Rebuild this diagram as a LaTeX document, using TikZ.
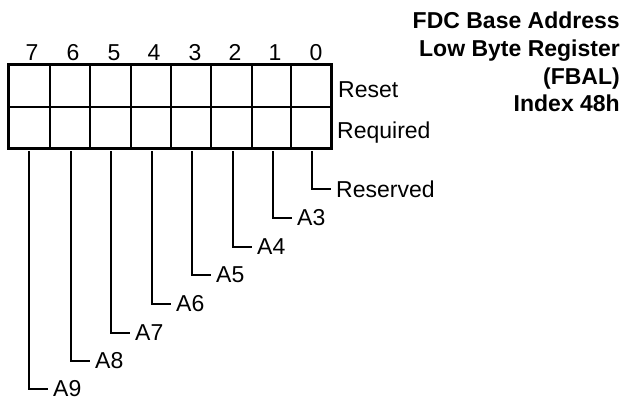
\documentclass[tikz,border=0pt]{standalone}
\usepackage{fontspec}
\setmainfont{Liberation Sans}
\begin{document}
\begin{tikzpicture}[x=1pt,y=-1pt,
  txt/.style={font=\fontsize{23}{28}\selectfont, inner sep=0pt},
  ttl/.style={font=\fontsize{23}{28}\selectfont\bfseries, inner sep=0pt, anchor=base east},
  lbl/.style={txt, anchor=west},
  leader/.style={line width=2pt, line cap=butt},
  outer/.style={line width=3pt},
  inner/.style={line width=2.2pt}]
\useasboundingbox (0,0) rectangle (629,400);
% grid
\foreach \x in {50,90,131,171,211,252,291} \draw[inner] (\x,64) -- (\x,148);
\draw[inner] (8,107) -- (331,107);
\draw[outer] (8,64) rectangle (331,148);
% bit numbers
\foreach \n/\x in {7/32,6/73,5/114,4/154,3/195,2/235,1/275,0/316}
  \node[txt, anchor=base] (n\n) at (\x,60) {\n};
% row labels
\node[txt, anchor=base west] (reset) at (338,97) {Reset};
\node[txt, anchor=base west] (req) at (337,138) {Required};
% title
\node[ttl] (t1) at (620,28) {FDC Base Address};
\node[ttl] (t2) at (620,56) {Low Byte Register};
\node[ttl] (t3) at (620,84) {(FBAL)};
\node[ttl] (t4) at (620,111) {Index 48h};
% leaders
\foreach \i/\x/\y/\t in {0/312/189/Reserved,1/273/218/A3,2/233/247/A4,3/192/275/A5,4/152/304/A6,5/111/333/A7,6/71/361/A8,7/29/389/A9}{
  \coordinate (b\i) at (\x,151);
  \node[lbl] (l\i) at (\x+24,\y) {\t};
  \draw[leader] (b\i) |- ([xshift=-5pt]l\i.west);
}
\end{tikzpicture}
\end{document}
